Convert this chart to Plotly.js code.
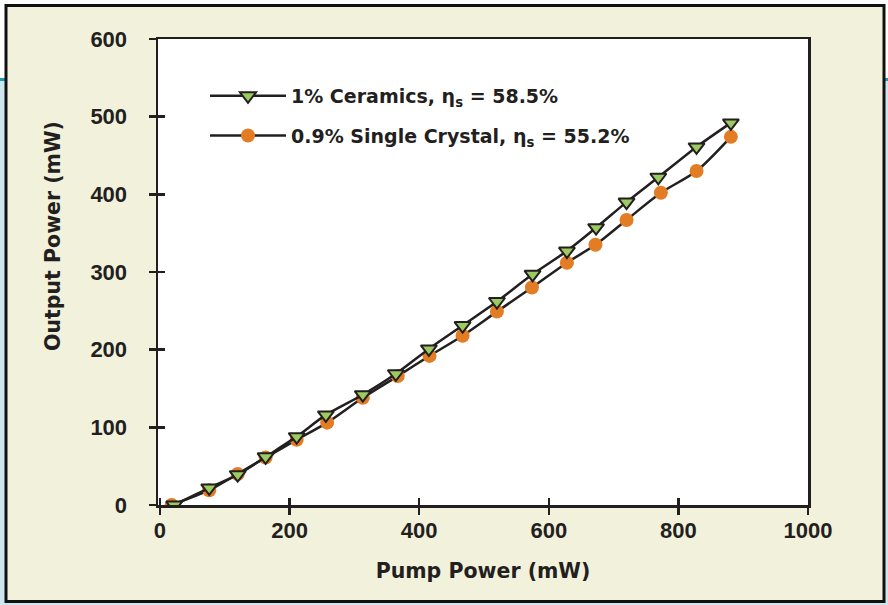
<!DOCTYPE html>
<html>
<head>
<meta charset="utf-8">
<script src="https://cdn.plot.ly/plotly-3.0.1.min.js"></script>
<style>
  html, body { margin: 0; padding: 0; background: #ffffff; }
  #chart { width: 888px; height: 605px; }
</style>
</head>
<body>
<div id="chart"></div>
<script>
// ---- data ----
var pumpCeramics = [22, 76, 120, 163, 211, 256, 313, 364, 415, 467, 520, 575, 628, 673, 720, 769, 828, 881];
var outCeramics  = [0, 22, 39, 62, 88, 116, 142, 169, 201, 231, 262, 297, 327, 357, 390, 422, 461, 492];
var pumpCrystal  = [18, 76, 120, 163, 211, 258, 313, 367, 416, 467, 520, 574, 628, 672, 720, 773, 828, 881];
var outCrystal   = [0, 19, 40, 61, 84, 106, 138, 166, 192, 218, 249, 280, 312, 335, 367, 402, 430, 474];
var nameCeramics = '1% Ceramics, \u03b7<sub>s</sub> = 58.5%';
var nameCrystal  = '0.9% Single Crystal, \u03b7<sub>s</sub> = 55.2%';
var xTicks = [0, 200, 400, 600, 800, 1000];
var yTicks = [0, 100, 200, 300, 400, 500, 600];
var xTitle = 'Pump Power (mW)';
var yTitle = 'Output Power (mW)';

var ink = '#231F20';
var tickFam = '"Liberation Sans", Arial, sans-serif';
var textFam = '"DejaVu Sans", Verdana, sans-serif';

var traces = [
  {
    x: pumpCrystal, y: outCrystal, name: nameCrystal, legendgroup: 'b', legendrank: 2,
    mode: 'lines+markers', type: 'scatter',
    line: { color: ink, width: 2.5, shape: 'spline', smoothing: 0.8 },
    marker: { symbol: 'circle', size: 14, color: '#E27D26', line: { width: 0 } }
  },
  {
    x: pumpCeramics, y: outCeramics, name: nameCeramics, legendgroup: 'a', legendrank: 1,
    mode: 'lines+markers', type: 'scatter',
    line: { color: ink, width: 2.5, shape: 'spline', smoothing: 0.8 },
    marker: { symbol: 'triangle-down', size: 14, color: '#9CCB62', line: { width: 2, color: ink } }
  },
  { x: [], y: [], xaxis: 'x2', yaxis: 'y2', showlegend: false, hoverinfo: 'skip', type: 'scatter' }
];

// paper-fraction helpers for decorative background (plot area px: 158..808, 39..505)
function fx(px) { return (px - 158) / 650; }
function fy(py) { return (505 - py) / 466; }

var layout = {
  width: 888, height: 605,
  margin: { l: 158, r: 80, t: 39, b: 100 },
  paper_bgcolor: '#CCE7EE',
  plot_bgcolor: 'rgba(0,0,0,0)',
  showlegend: true,
  font: { family: textFam, color: ink, size: 20 },
  xaxis: {
    range: [-3, 1000], tickvals: xTicks, ticktext: xTicks.map(String),
    ticks: 'outside', ticklen: 7, tickwidth: 2.5, tickcolor: ink,
    showline: true, linecolor: ink, linewidth: 2.5, mirror: true,
    showgrid: false, zeroline: false,
    tickfont: { family: tickFam, size: 22, color: ink, weight: 'bold' },
    ticklabelstandoff: -3,
    title: { text: xTitle, font: { family: textFam, size: 20.5, color: ink, weight: 'bold' }, standoff: 22 }
  },
  yaxis: {
    range: [0, 600], tickvals: yTicks, ticktext: yTicks.map(String),
    ticks: 'outside', ticklen: 7, tickwidth: 2.5, tickcolor: ink,
    showline: true, linecolor: ink, linewidth: 2.5, mirror: true,
    showgrid: false, zeroline: false,
    tickfont: { family: tickFam, size: 22, color: ink, weight: 'bold' },
    ticklabelstandoff: 17
  },
  xaxis2: {
    overlaying: 'x', matches: 'x', anchor: 'y2', range: [-3, 1000], tickvals: xTicks,
    ticks: 'inside', ticklen: 7, tickwidth: 2.5, tickcolor: ink,
    showticklabels: false, showline: false, showgrid: false, zeroline: false
  },
  yaxis2: {
    overlaying: 'y', anchor: 'x2', range: [0, 600], tickvals: yTicks,
    ticks: 'inside', ticklen: 7, tickwidth: 2.5, tickcolor: ink,
    showticklabels: false, showline: false, showgrid: false, zeroline: false
  },
  legend: {
    x: fx(205), y: fy(77), xanchor: 'left', yanchor: 'top',
    bgcolor: 'rgba(0,0,0,0)', borderwidth: 0,
    traceorder: 'grouped', tracegroupgap: 12, itemwidth: 76,
    font: { family: textFam, size: 19, color: ink, weight: 'bold' }
  },
  annotations: [
    { text: yTitle, xref: 'paper', yref: 'paper', x: fx(53), y: fy(236),
      xanchor: 'center', yanchor: 'middle', textangle: -90, showarrow: false,
      font: { family: textFam, size: 20.5, color: ink, weight: 'bold' } }
  ],
  shapes: [
    { type: 'rect', xref: 'paper', yref: 'paper', x0: fx(-5), x1: fx(895), y0: fy(79), y1: fy(-5),
      fillcolor: '#ffffff', line: { width: 0 }, layer: 'below' },
    { type: 'line', xref: 'paper', yref: 'paper', x0: fx(-5), x1: fx(895), y0: fy(79.5), y1: fy(79.5),
      line: { color: '#1E9CB0', width: 3 }, layer: 'below' },
    { type: 'rect', xref: 'paper', yref: 'paper', x0: fx(6), x1: fx(884), y0: fy(601.5), y1: fy(5.5),
      fillcolor: '#F2F1DC', line: { color: '#111111', width: 3 }, layer: 'below' },
    { type: 'rect', xref: 'paper', yref: 'paper', x0: 0, x1: 1, y0: 0, y1: 1,
      fillcolor: '#ffffff', line: { width: 0 }, layer: 'below' }
  ]
};

Plotly.newPlot('chart', traces, layout, { displayModeBar: false, staticPlot: true });
</script>
</body>
</html>
